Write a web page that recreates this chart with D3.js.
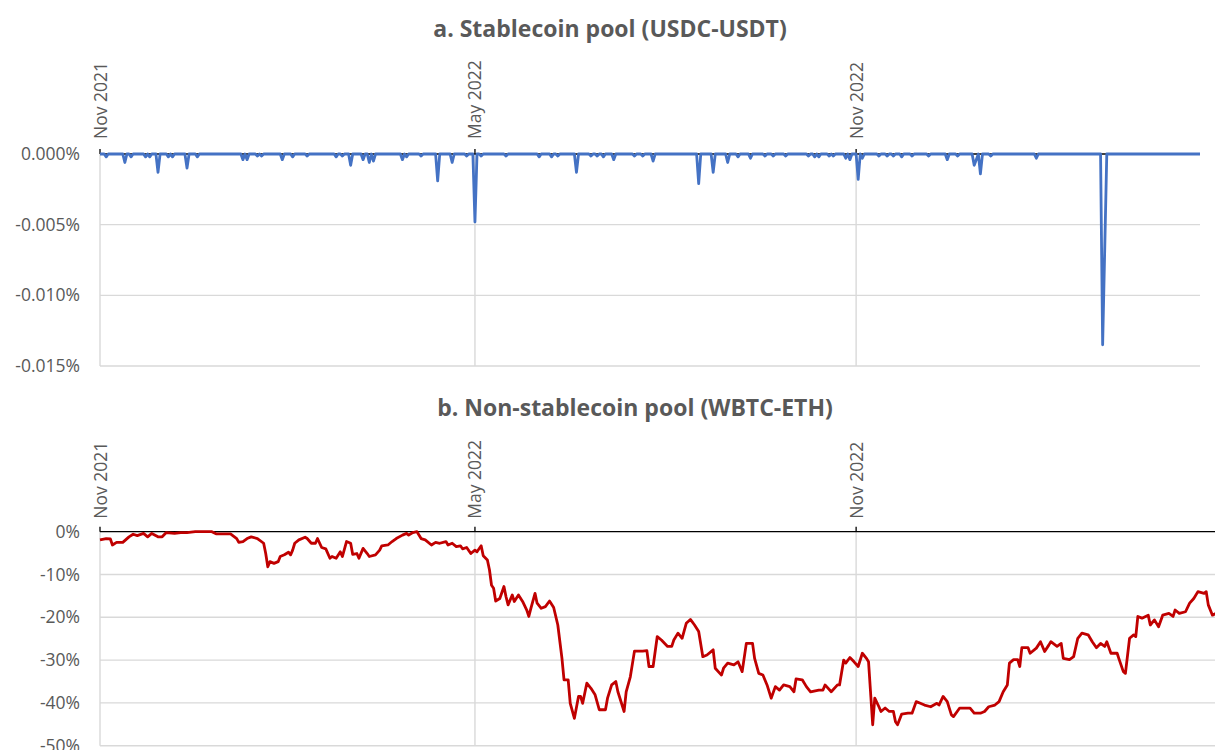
<!DOCTYPE html>
<html>
<head>
<meta charset="utf-8">
<script src="https://cdn.jsdelivr.net/npm/d3@7"></script>
<style>
  body { margin: 0; background: #ffffff; }
  svg { display: block; font-family: "Open Sans", sans-serif; }
</style>
</head>
<body>
<div id="chart"></div>
<script>
// x axis: day offsets counted from 1 Nov 2021
var startDate = new Date(2021, 10, 1);
var endDate = new Date(2023, 3, 16);
var dateTicks = [new Date(2021, 10, 1), new Date(2022, 4, 1), new Date(2022, 10, 1)];
var dateTickLabels = ["Nov 2021", "May 2022", "Nov 2022"];

// a. USDC-USDT: days where the line leaves zero, [day, % change]
var stableTicks = [0, -0.005, -0.010, -0.015];
var stableTickLabels = ["0.000%", "-0.005%", "-0.010%", "-0.015%"];
var stableDips = [
  [3, -0.0002], [12, -0.0006], [15, -0.0002], [22, -0.0002], [24, -0.0002], [28, -0.0013],
  [33, -0.0002], [35, -0.0002], [42, -0.0010], [47, -0.0002], [69, -0.0004], [71, -0.0004],
  [76, -0.00015], [78, -0.00015], [88, -0.0004], [93, -0.0002], [100, -0.00015], [114, -0.0002],
  [117, -0.00015], [121, -0.0008], [127, -0.0004], [130, -0.0006], [132, -0.0005], [146, -0.0004],
  [148, -0.0002], [155, -0.00015], [163, -0.0019], [170, -0.0006], [177, -0.00015], [181, -0.0048],
  [184, -0.00015], [196, -0.00015], [212, -0.0002], [218, -0.0002], [221, -0.00015], [230, -0.0013],
  [237, -0.00015], [240, -0.00015], [243, -0.0002], [248, -0.0004], [258, -0.00015], [262, -0.00015],
  [267, -0.0005], [289, -0.0021], [296, -0.0013], [303, -0.0006], [308, -0.0002], [314, -0.0003],
  [321, -0.00015], [325, -0.00015], [331, -0.00015], [342, -0.00015], [345, -0.0002], [347, -0.0002],
  [352, -0.00015], [354, -0.00015], [360, -0.0003], [362, -0.0004], [366, -0.0018], [368, -0.0003],
  [376, -0.00015], [380, -0.00015], [383, -0.00015], [387, -0.0002], [392, -0.00015], [400, -0.00015],
  [409, -0.0004], [414, -0.00015], [422, -0.0008], [423, -0.0004], [425, -0.0014], [430, -0.00015],
  [452, -0.0003], [484, -0.0135], [485, -0.0068]
];

// b. WBTC-ETH: [day, % change]
var nonStableTicks = [0, -10, -20, -30, -40, -50];
var nonStableTickLabels = ["0%", "-10%", "-20%", "-30%", "-40%", "-50%"];
var nonStablePoints = [
  [0,-1.9],[3,-1.6],[5,-1.7],[6,-3.1],[8,-2.5],[11,-2.5],[14,-1.2],[16,-0.6],[18,-0.9],[21,-0.4],
  [23,-1.2],[25,-0.4],[28,-1.2],[30,-1.2],[32,-0.2],[36,-0.4],[39,-0.2],[42,-0.2],[46,0],[54,0],
  [56,-0.5],[63,-0.5],[66,-1.6],[67,-2.5],[69,-2.3],[71,-1.6],[73,-1.2],[76,-1.6],[79,-2.7],[80,-5.1],
  [81,-8.2],[82,-7.0],[84,-7.4],[86,-7.0],[87,-5.8],[89,-5.4],[91,-4.8],[92,-5.4],[93,-4.3],[94,-2.7],
  [96,-1.9],[99,-1.3],[100,-1.6],[102,-2.7],[104,-2.7],[105,-1.6],[107,-3.7],[109,-4.0],[111,-6.2],[112,-5.8],
  [114,-6.2],[116,-4.7],[117,-5.8],[119,-2.3],[121,-2.7],[122,-5.3],[124,-5.1],[125,-6.2],[127,-3.9],[129,-5.1],
  [130,-5.8],[133,-5.4],[135,-4.3],[136,-3.3],[139,-3.1],[141,-2.3],[143,-1.6],[146,-0.8],[148,-0.4],[149,-0.8],
  [151,-0.2],[153,0],[155,-1.6],[157,-1.9],[160,-3.1],[162,-2.5],[164,-2.7],[167,-2.3],[168,-3.1],[170,-2.7],
  [172,-3.5],[174,-3.3],[175,-4.0],[177,-3.7],[179,-5.1],[181,-4.3],[182,-4.7],[184,-3.3],[185,-5.6],[187,-6.6],
  [188,-8.9],[189,-12.5],[190,-13.2],[191,-16.2],[193,-15.6],[195,-12.8],[196,-15.2],[197,-17.1],[199,-14.8],[200,-16.3],
  [202,-14.8],[204,-16.3],[206,-18.3],[207,-19.8],[208,-17.9],[210,-14.4],[211,-16.7],[213,-17.9],[215,-17.5],[217,-16.2],
  [219,-17.7],[221,-21.8],[223,-29.6],[224,-34.6],[226,-34.6],[227,-40.1],[229,-43.6],[231,-38.5],[232,-38.5],[233,-40.1],
  [235,-35.4],[237,-36.6],[239,-38.1],[241,-41.6],[244,-41.6],[245,-38.9],[247,-35.8],[249,-35.0],[250,-37.4],[253,-42.0],
  [254,-37.4],[256,-33.9],[258,-27.9],[262,-27.9],[264,-27.8],[265,-31.5],[267,-31.5],[269,-24.5],[271,-25.3],[274,-26.8],
  [276,-26.8],[277,-25.3],[279,-23.7],[281,-24.9],[283,-21.4],[285,-20.5],[287,-21.8],[289,-23.3],[291,-29.2],[293,-28.8],
  [296,-27.6],[297,-31.9],[300,-33.5],[301,-31.9],[303,-30.7],[306,-31.1],[308,-30.4],[310,-32.7],[312,-26.1],[315,-26.1],
  [316,-29.6],[318,-33.1],[320,-33.5],[322,-35.8],[324,-38.9],[326,-36.2],[328,-37.0],[330,-35.8],[333,-36.2],[335,-37.4],
  [336,-34.4],[339,-34.6],[341,-36.2],[343,-37.4],[347,-37.0],[349,-37.0],[350,-35.8],[353,-37.4],[356,-35.8],[357,-35.8],
  [359,-30.0],[360,-30.7],[362,-29.4],[364,-30.4],[366,-31.5],[368,-28.4],[370,-29.6],[371,-30.4],[373,-45.1],[374,-38.9],
  [376,-40.9],[377,-42.0],[379,-41.2],[381,-42.0],[383,-42.0],[384,-44.4],[385,-45.1],[387,-42.6],[390,-42.4],[392,-42.4],
  [394,-39.7],[396,-40.1],[398,-40.5],[401,-40.9],[404,-40.1],[405,-40.5],[407,-38.5],[409,-39.7],[411,-42.8],[412,-43.2],
  [415,-41.2],[418,-41.2],[420,-41.2],[422,-42.4],[425,-42.4],[427,-42.0],[429,-40.9],[432,-40.5],[434,-39.7],[436,-37.4],
  [438,-35.8],[439,-30.7],[441,-29.9],[443,-29.9],[444,-31.5],[445,-27.1],[448,-27.1],[449,-28.4],[452,-27.2],[454,-25.7],
  [456,-28.0],[458,-26.5],[459,-25.7],[462,-26.8],[464,-26.1],[465,-29.6],[468,-29.9],[470,-29.2],[472,-24.9],[474,-23.7],
  [477,-24.1],[479,-25.7],[481,-27.1],[483,-26.1],[485,-26.8],[486,-25.7],[488,-28.4],[491,-28.4],[492,-29.9],[494,-32.7],
  [495,-33.1],[497,-24.9],[499,-24.1],[500,-24.5],[501,-19.8],[503,-20.2],[506,-19.5],[507,-21.8],[509,-20.6],[511,-22.2],
  [513,-19.5],[516,-19.1],[518,-19.8],[519,-18.3],[521,-19.1],[524,-18.7],[526,-16.7],[528,-15.6],[530,-14.0],[533,-14.4],
  [534,-14.0],[535,-17.1],[537,-19.5],[539,-19.0]
];

ChartRenderer = {

    options: {
        width: 1215,
        height: 750,
        textColor: "#595959",
        gridColor: "#d9d9d9",
        axisColor: "#000000",
        stableColor: "#4472C4",
        nonStableColor: "#C00000"
    },

    dayToDate: function(d) {
        return d3.timeDay.offset(startDate, d);
    },

    // every day of panel a sits on zero unless listed in stableDips
    stableSeries: function() {
        var dips = new Map(stableDips);
        var days = d3.timeDay.count(startDate, endDate);
        return d3.range(0, days + 1).map(function(d) {
            return [ChartRenderer.dayToDate(d), dips.has(d) ? dips.get(d) : 0];
        });
    },

    drawPanel: function(svg, cfg) {
        var opt = ChartRenderer.options;
        var g = svg.append("g");
        var x = cfg.x;
        var y = d3.scaleLinear().domain(cfg.yDomain).range([cfg.bottom, cfg.top]);
        var x0 = x.range()[0], x1 = x.range()[1];
        var zeroY = y(0);

        // horizontal grid
        g.selectAll("line.hgrid")
          .data(cfg.yTicks.filter(function(t) { return t !== 0; }))
          .enter().append("line")
          .attr("x1", x0).attr("x2", x1)
          .attr("y1", function(t) { return y(t); })
          .attr("y2", function(t) { return y(t); })
          .attr("stroke", opt.gridColor).attr("stroke-width", 1.4);

        // vertical grid at the date ticks
        g.selectAll("line.vgrid")
          .data(dateTicks)
          .enter().append("line")
          .attr("x1", function(t) { return x(t); })
          .attr("x2", function(t) { return x(t); })
          .attr("y1", zeroY).attr("y2", y(cfg.yDomain[0]))
          .attr("stroke", opt.gridColor).attr("stroke-width", 1.4);

        // category axis sits on zero, labels above it
        g.append("line")
          .attr("x1", x0).attr("x2", x1)
          .attr("y1", zeroY).attr("y2", zeroY)
          .attr("stroke", opt.axisColor).attr("stroke-width", 1.3);

        g.selectAll("line.tick")
          .data(dateTicks)
          .enter().append("line")
          .attr("x1", function(t) { return x(t); })
          .attr("x2", function(t) { return x(t); })
          .attr("y1", zeroY).attr("y2", zeroY - 5)
          .attr("stroke", opt.axisColor).attr("stroke-width", 1.3);

        var line = d3.line()
          .x(function(p) { return x(p[0]); })
          .y(function(p) { return y(p[1]); });

        g.append("path")
          .datum(cfg.series)
          .attr("d", line)
          .attr("fill", "none")
          .attr("stroke", cfg.color)
          .attr("stroke-width", 2.8)
          .attr("stroke-linejoin", "round");

        g.selectAll("text.ylab")
          .data(cfg.yTicks)
          .enter().append("text")
          .attr("x", 80)
          .attr("y", function(t) { return y(t) + 6; })
          .attr("text-anchor", "end")
          .attr("font-size", "17.5px")
          .attr("fill", opt.textColor)
          .text(function(t, i) { return cfg.yLabels[i]; });

        g.selectAll("text.xlab")
          .data(dateTicks)
          .enter().append("text")
          .attr("transform", function(t) {
              return "translate(" + (x(t) + 6.5) + "," + (zeroY - cfg.labelGap) + ") rotate(-90)";
          })
          .attr("text-anchor", "start")
          .attr("font-size", "17.5px")
          .attr("fill", opt.textColor)
          .text(function(t, i) { return dateTickLabels[i]; });

        g.append("text")
          .attr("x", cfg.titleX)
          .attr("y", cfg.titleY)
          .attr("text-anchor", "middle")
          .attr("font-size", "23px")
          .attr("font-weight", "bold")
          .attr("fill", opt.textColor)
          .text(cfg.title);
    },

    render: function() {
        var opt = ChartRenderer.options;
        var svg = d3.select("#chart").append("svg")
          .attr("width", opt.width)
          .attr("height", opt.height);

        var xTop = d3.scaleTime().domain([startDate, endDate]).range([100, 1200]);
        var xBottom = xTop.copy().domain([startDate, xTop.invert(1258)]).range([100, 1258]);

        ChartRenderer.drawPanel(svg, {
            title: "a. Stablecoin pool (USDC-USDT)",
            titleX: 610, titleY: 37,
            x: xTop,
            yDomain: [-0.015, 0], top: 154, bottom: 366,
            yTicks: stableTicks, yLabels: stableTickLabels,
            labelGap: 15,
            series: ChartRenderer.stableSeries(),
            color: opt.stableColor
        });

        ChartRenderer.drawPanel(svg, {
            title: "b. Non-stablecoin pool (WBTC-ETH)",
            titleX: 635, titleY: 416,
            x: xBottom,
            yDomain: [-50, 0], top: 531.7, bottom: 745.7,
            yTicks: nonStableTicks, yLabels: nonStableTickLabels,
            labelGap: 13,
            series: nonStablePoints.map(function(p) { return [ChartRenderer.dayToDate(p[0]), p[1]]; }),
            color: opt.nonStableColor
        });
    }
};

ChartRenderer.render();
</script>
</body>
</html>
